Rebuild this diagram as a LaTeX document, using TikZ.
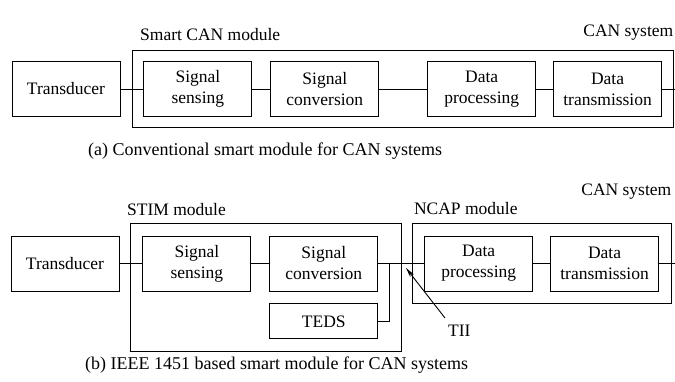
\documentclass[tikz,border=0pt]{standalone}
\usepackage{fontspec}
\setmainfont{Liberation Serif}
\usetikzlibrary{positioning,fit,arrows.meta}
\tikzstyle{line} = [draw, line width=0.9pt]
\tikzstyle{block} = [draw, line width=0.9pt, minimum width=108pt, minimum height=55pt, align=center, inner sep=2pt]
\tikzstyle{module} = [draw, line width=0.9pt, inner sep=11pt]
\tikzstyle{modname} = [inner sep=0pt]
\tikzstyle{caption} = [inner sep=0pt, anchor=base west, font=\fontsize{18}{21}\selectfont]
\tikzstyle{tii} = [line width=1.6pt]

\begin{document}
\begin{tikzpicture}[x=1pt, y=1pt, node distance=18pt, font=\fontsize{17.5}{21}\selectfont, >={Stealth[length=10pt,width=4.5pt]}]
\useasboundingbox (0,0) rectangle (675,382);

% (a) conventional smart module
\node (trA)  [block]                   at (66,293) {Transducer};
\node (senA) [block,right=23pt of trA]  {Signal\\sensing};
\node (conA) [block,right=of senA]      {Signal\\conversion};
\node (proA) [block,right=48pt of conA] {Data\\processing};
\node (txA)  [block,right=17pt of proA] {Data\\transmission};
\coordinate [right=17pt of txA] (outA);

\node (smart) [module,fit=(senA)(txA)] {};
\node [modname,anchor=base west] at ([shift={(8pt,9pt)}]smart.north west) {Smart CAN module};
\node [modname,anchor=base east] at ([yshift=13pt]smart.north east) {CAN system};

% edges
\path (trA)  edge[line] (senA);
\path (senA) edge[line] (conA);
\path (conA) edge[line] (proA);
\path (proA) edge[line] (txA);
\path (txA)  edge[line] (outA);

\node (capA) [caption] at (88,226) {(a) Conventional smart module for CAN systems};

% (b) IEEE 1451 based smart module
\node (trB)  [block]                   at (65,118.5) {Transducer};
\node (senB) [block,right=23pt of trB]  {Signal\\sensing};
\node (conB) [block,right=of senB]      {Signal\\conversion};
\node (teds) [block,minimum height=35pt,below=12pt of conB] {TEDS};
\coordinate [right=11pt of conB] (jB);
\node (proB) [block,right=46pt of conB] {Data\\processing};
\node (txB)  [block,right=17pt of proB] {Data\\transmission};
\coordinate [right=17pt of txB] (outB);

\node (stim) [module,inner sep=12pt,fit=(senB)(teds)(jB)] {};
\node (ncap) [module,inner sep=12pt,fit=(proB)(txB)] {};
\node [modname,anchor=base west] at ([shift={(-3pt,8pt)}]stim.north west) {STIM module};
\node [modname,anchor=base west] at ([shift={(2pt,9pt)}]ncap.north west) {NCAP module};
\node [modname,anchor=base east] at ([yshift=28pt]ncap.north east) {CAN system};

% edges
\path (trB)  edge[line] (senB);
\path (senB) edge[line] (conB);
\path (conB) edge[line] (proB);
\path (proB) edge[line] (txB);
\path (txB)  edge[line] (outB);
\draw[line] (jB) |- (teds.east);
\draw[tii] (jB) -- (jB -| ncap.west);

% interface pointer
\node (tiiname) [modname,anchor=base west] at (448,45) {TII};
\coordinate (tipB)  at (406,114);
\coordinate (tailB) at (445,64);
\draw[line,->] (tailB) -- (tipB);

\node (capB) [caption] at (85,12) {(b) IEEE 1451 based smart module for CAN systems};

\end{tikzpicture}
\end{document}
